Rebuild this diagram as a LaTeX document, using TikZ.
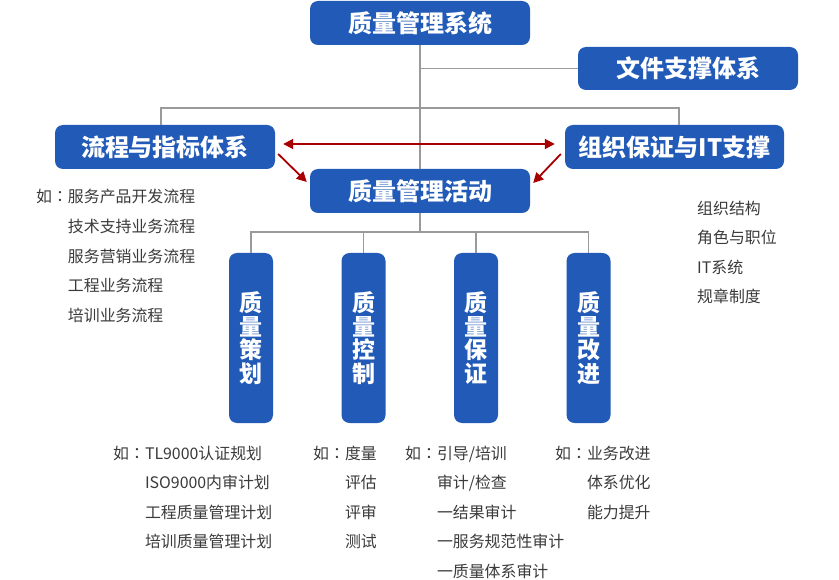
\documentclass[tikz,border=0pt]{standalone}
\usepackage{fontspec}
\setmainfont{Noto Sans CJK SC}
\newfontfamily\tcfont{Noto Sans CJK TC}
\newcommand{\ruprefix}{如{\tcfont ：}}
\newcommand{\rugap}{\phantom{如{\tcfont ：}}}
\usetikzlibrary{arrows.meta,calc}
\definecolor{boxblue}{HTML}{215AB7}
\definecolor{treegray}{HTML}{9A9A9A}
\definecolor{arrowred}{HTML}{A80000}
\definecolor{txtgray}{HTML}{3A3A3A}
\tikzset{
  bluebox/.style={draw=none, fill=boxblue, rounded corners=8pt, text=white,
    font=\bfseries\fontsize{24}{26}\selectfont, inner sep=0pt,
    minimum width=220pt, minimum height=44pt},
  vbox/.style={draw=none, fill=boxblue, rounded corners=8pt, text=white,
    font=\bfseries\fontsize{23}{23.5}\selectfont, inner sep=0pt, align=center,
    minimum width=44pt, minimum height=170pt},
  tree/.style={draw=treegray, line width=1.8pt},
  redarrow/.style={draw=arrowred, line width=1.8pt,
    -{Triangle[length=10pt,width=10pt]}},
  note/.style={text=txtgray, font=\fontsize{15.9}{29.6}\selectfont,
    align=left, inner sep=0pt, anchor=base west}
}
\begin{document}
\begin{tikzpicture}[x=1pt,y=-1pt]
\useasboundingbox (0,0) rectangle (839,580);
\node[bluebox] (sys) at (420,23) {质量管理系统};
\node[bluebox, minimum height=43pt] (doc) at (688,68.5) {文件支撑体系};
\node[bluebox] (flow) at (165,147) {流程与指标体系};
\node[bluebox, minimum width=219pt] (org) at (674.5,147) {组织保证与IT支撑};
\node[bluebox] (act) at (420,191) {质量管理活动};
\node[vbox] (v1) at (251,338) {质\\量\\策\\划};
\node[vbox] (v2) at (363.5,338) {质\\量\\控\\制};
\node[vbox] (v3) at (476,338) {质\\量\\保\\证};
\node[vbox] (v4) at (588.5,338) {质\\量\\改\\进};
% tree lines
\coordinate (j1) at (420,108);
\coordinate (j2) at (420,232);
\draw[tree] (sys.south) -- (act.north);
\draw[tree] (sys.south |- doc.west) -- (doc.west);
\draw[tree] ([xshift=-4pt]flow.north) |- (j1) -| ([xshift=4.5pt]org.north);
\draw[tree] (act.south) -- (j2);
\draw[tree] (v1.north) |- (j2) -| (v4.north);
\draw[tree] (v2.north) -- (v2.north |- j2);
\draw[tree] (v3.north) -- (v3.north |- j2);
% red arrows
\draw[redarrow, {Triangle[length=10pt,width=10pt]}-{Triangle[length=10pt,width=10pt]},
  shorten <=8pt, shorten >=10pt] ([yshift=3pt]flow.east) -- ([yshift=3pt]org.west);
\draw[redarrow] ([xshift=3pt,yshift=-7pt]flow.east) -- ([xshift=-3pt,yshift=9pt]act.west);
\draw[redarrow] ([xshift=-4pt,yshift=-7pt]org.west) -- ([xshift=3pt,yshift=8pt]act.east);
% notes (anchor = baseline of the last line)
\node[note] (n1) at (36,321.4) {\ruprefix 服务产品开发流程\\\rugap 技术支持业务流程\\\rugap 服务营销业务流程\\\rugap 工程业务流程\\\rugap 培训业务流程};
\node[note] (n2) at (697,302.8) {组织结构\\角色与职位\\IT系统\\规章制度};
\node[note] (n3) at (113,547.8) {\ruprefix TL9000认证规划\\\rugap ISO9000内审计划\\\rugap 工程质量管理计划\\\rugap 培训质量管理计划};
\node[note] (n4) at (313,547.8) {\ruprefix 度量\\\rugap 评估\\\rugap 评审\\\rugap 测试};
\node[note] (n5) at (405,577.4) {\ruprefix 引导/培训\\\rugap 审计/检查\\\rugap 一结果审计\\\rugap 一服务规范性审计\\\rugap 一质量体系审计};
\node[note] (n6) at (555,518.2) {\ruprefix 业务改进\\\rugap 体系优化\\\rugap 能力提升};
\end{tikzpicture}
\end{document}
